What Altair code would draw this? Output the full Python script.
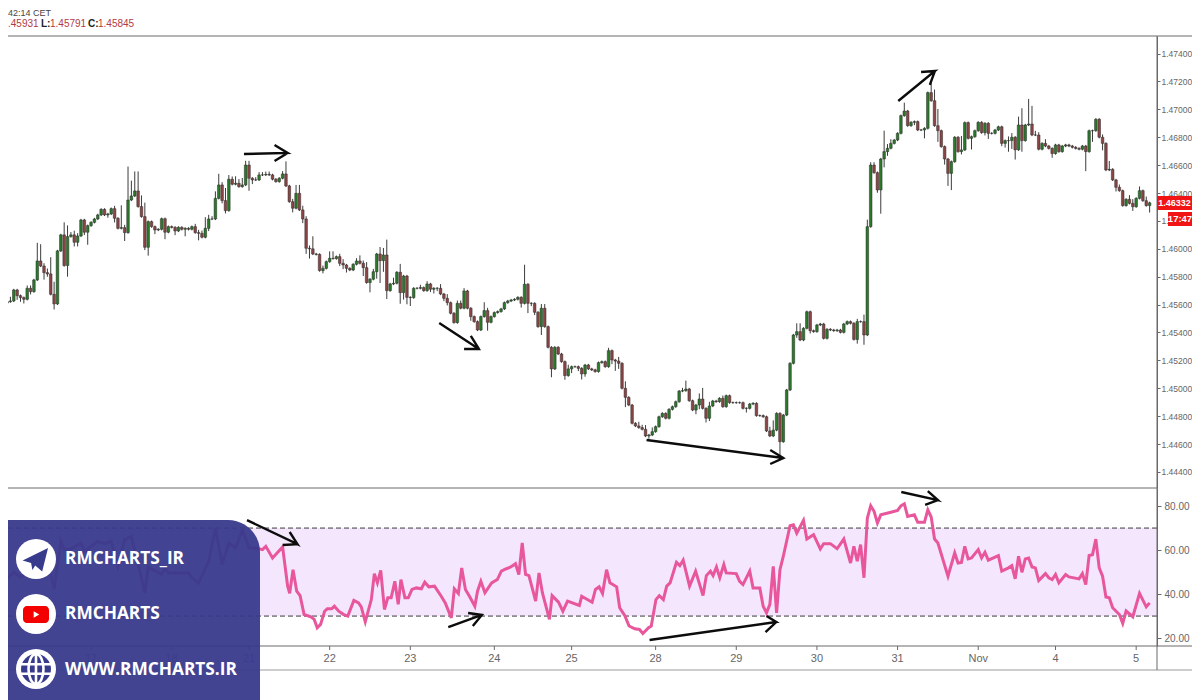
import altair as alt
import pandas as pd

# ---------- values ----------
# hourly closes, in pips above 1.44000 (open = previous close)
CLOSE_PIPS = [
    162.1,162.6,170.5,166.4,165.0,163.8,171.7,169.3,177.7,191.3,
    187.7,182.9,182.0,167.4,160.5,198.5,210.0,188.0,208.8,210.0,
    204.7,209.2,220.7,211.9,216.6,219.0,221.4,224.3,228.3,224.3,
    225.0,228.8,221.9,214.7,215.2,211.6,235.0,237.9,241.5,230.3,
    223.1,201.1,219.5,215.9,213.5,214.0,221.6,211.9,215.9,215.4,
    212.8,215.4,214.0,214.7,214.0,215.9,211.6,211.1,208.3,214.7,
    221.4,221.4,236.2,245.8,234.6,227.4,249.9,246.3,247.0,244.6,
    245.8,260.1,250.6,249.4,249.4,253.0,253.0,253.4,253.0,249.9,
    248.2,250.6,253.7,245.1,233.8,229.1,239.8,227.9,221.4,200.4,
    200.0,196.3,196.0,184.4,186.0,190.8,193.2,193.0,194.4,189.6,
    188.4,186.0,184.8,188.9,191.3,189.6,186.5,175.8,178.2,183.6,
    196.3,191.5,195.6,170.0,174.8,175.3,183.2,168.6,180.5,165.2,
    165.0,171.7,171.7,172.2,170.0,174.8,171.0,171.7,171.7,167.6,
    164.5,161.4,153.8,147.1,160.9,157.4,169.8,157.4,151.4,147.8,
    141.8,151.4,155.7,147.3,151.4,154.3,155.0,156.9,161.4,162.6,
    163.3,163.8,165.2,160.9,174.6,160.9,160.9,154.5,144.2,157.4,
    144.2,129.4,113.9,129.4,124.6,119.1,109.1,113.9,115.5,115.5,
    114.3,110.3,116.7,113.9,113.2,112.0,118.4,119.1,115.5,127.0,
    120.3,119.5,117.9,100.0,93.5,88.0,74.9,73.0,71.8,70.6,
    65.8,66.5,68.9,72.5,79.6,82.0,78.5,84.9,86.8,90.4,
    98.0,98.3,99.5,91.1,84.4,88.0,92.3,85.6,78.5,87.3,
    90.9,90.4,92.8,86.8,94.7,89.7,89.7,89.7,89.7,85.6,
    85.6,88.7,89.2,80.4,80.4,79.6,69.4,65.8,70.0,82.0,
    61.7,80.8,98.8,117.9,138.2,140.6,134.6,143.0,154.9,141.3,
    140.6,145.4,146.1,135.8,142.3,141.8,141.3,141.8,140.1,146.1,
    147.8,146.6,135.0,147.8,147.8,138.2,215.9,260.1,254.6,242.2,
    264.4,269.7,272.1,275.6,278.0,282.8,295.5,298.8,288.3,290.7,
    291.2,285.2,285.2,286.4,312.0,306.2,288.3,284.7,273.3,264.4,
    254.1,262.5,280.0,269.7,270.9,290.5,279.2,280.4,284.7,290.7,
    283.3,290.0,282.8,282.8,285.2,287.5,275.6,277.6,277.6,280.0,
    271.0,288.8,277.6,288.8,289.5,281.6,281.6,271.4,275.6,273.7,
    272.0,268.3,274.5,269.7,273.7,274.5,273.7,272.8,272.0,271.4,
    273.7,269.7,284.7,284.7,292.9,280.0,275.6,256.5,257.0,249.4,
    244.1,241.7,231.0,235.5,232.6,230.2,236.2,241.7,234.5,231.0,
    233.0,
]
# wick lengths in pips, by bar; bars not listed have a short wick
WICK_SHORT = 0.8
WICK_UP = {1:3,6:2,7:2,9:13,10:12,11:2,12:3,13:12,14:9,17:9,18:8,19:2,20:3,21:2,32:2,34:16,35:2,36:24,37:11,38:14,
    39:14,40:8,41:10,56:2,57:2,58:2,59:8,60:3,61:2,62:5,63:8,64:2,65:9,66:3,67:2,68:5,69:3,70:5,71:3,72:3,74:2,75:2,
    76:2,77:2,78:2,82:2,83:9,85:2,86:6,87:6,88:3,89:2,90:2,91:9,94:2,96:5,97:5,99:2,100:3,104:2,105:4,106:2,107:4,
    109:2,111:5,112:5,113:11,115:4,117:6,123:2,125:2,129:3,131:3,134:2,135:2,136:2,142:6,143:2,154:14,159:3,160:3,
    167:3,179:2,182:3,184:5,188:3,189:2,190:3,192:3,201:2,202:6,206:4,207:8,209:3,213:2,227:3,228:7,235:6,236:6,
    253:2,255:5,256:5,257:2,258:2,261:15,262:3,263:3,267:6,275:7,276:8,277:12,284:10,298:3,299:3,301:6,302:12,304:18,
    305:13,306:3,307:2,309:3,326:2,328:6,331:2,334:3,335:3,337:3,339:3}
WICK_DN = {3:3,4:3,5:3,7:2,11:5,12:2,14:4,18:8,20:3,21:3,23:2,24:9,30:2,32:3,35:6,41:2,42:6,44:3,47:5,50:3,53:5,57:5,
    60:2,64:2,65:2,72:9,73:3,85:3,88:3,89:4,90:7,94:2,99:2,100:3,101:3,106:6,108:7,110:5,111:16,112:8,113:6,117:8,
    118:5,119:5,120:6,126:2,127:3,128:2,130:2,131:2,138:3,143:6,153:3,155:7,156:2,157:2,159:6,162:6,166:3,168:3,170:2,
    171:4,172:2,180:3,181:7,182:4,184:7,191:2,205:3,206:3,208:3,209:2,220:3,230:11,235:2,239:2,253:3,255:7,259:2,
    260:17,261:6,262:3,270:2,273:6,277:8,279:4,280:9,281:12,284:2,287:8,291:2,292:4,296:2,297:3,298:8,299:6,300:7,
    302:8,311:3,321:14,323:8,326:5,330:3,335:3,340:5}

RSI_BAR = [0,2,4,6,8,12,14,16,17,19,22,23,27,29,31,33,35,37,41,42,46,47,48,54,55,57,60,62,64,66,68,70,72,74,76,77,79,82,
    83.5,84.1,85.1,86.2,87.2,88.4,90.4,91.4,92.3,93.3,94.5,95.3,96.6,97.4,98.7,100.2,101.4,103.2,104.6,105.4,106.6,107.6,
    108.4,109.3,110.2,111.2,112.3,113.3,114.3,115.4,116.4,117.2,118.4,119.4,120.5,121.8,123.3,124.3,125.5,127.2,129.2,130.4,
    132.2,133.1,134.3,135.3,136.4,137.6,139.2,140,141,142.2,144.2,145.9,147.1,148.4,149.9,151.3,152.3,153.3,154.3,155.3,
    157.3,158.3,159.3,161.4,162.2,164.1,165.4,166.8,170.3,171,174.1,175.1,176.2,177.2,178.4,179.4,181.4,182.3,183.8,185.1,
    186.8,188.2,189.2,190.9,191.7,193.1,194.1,195.3,196.3,197.3,199.2,200.2,201.2,203.1,204.9,207.1,208.1,209.3,210.1,211.1,
    212.1,213.3,214,217,218,219,221,222,224,225,226,227,228,229,230,231,233,234,235,237,238,240,242,243,245,247,249,251,252,253,
    254,255,256,257,258,259,260,263,265,266,267,268,270,271,273,274,275,276,277,280,282,283,284,285,286,287,289,290,291,292,295,
    296,298,299,300,301,302,303,304,305,306,307,309,310,311,312,313,315,316,319,320,321,322,323,324,325,326,327,328,329,331,332,
    333,335,337,339,340]
RSI_VAL = [46.9,49.9,47.7,49.6,54.1,55.7,42.1,64,60.2,60.5,63.2,59.4,64,62.9,64,52.6,64.7,66.2,40.6,52.3,48.9,51.9,49.6,49.6,47.4,45.1,54.9,70,53.4,63.2,60.9,69.2,60.9,60.9,60.2,61.7,56.4,61.4,
    43.6,40.3,51.1,41.3,39.3,30.7,29.7,28.5,24.7,26.2,32.2,33.3,33.3,34.5,32.2,30.7,30,37.1,36,34.2,27.4,33,
    37.5,49.3,45.1,50.8,33,38.3,38.3,45.8,35.3,46.6,38.3,38.3,42.1,42.8,42.4,45.4,43.3,43.6,39,36,
    29.2,42.4,40.3,51.9,42.1,39,34.5,41.3,45.8,40.6,45.1,46.6,50.4,51.4,52.3,53.8,48.9,63.2,48.9,48.4,
    36.8,49.6,40.6,28.5,39.3,36.3,32.2,36.8,34.8,39,36.3,42.1,43.3,40.3,51.1,45.1,43.3,33.8,30.3,25.5,
    24.2,23.9,22.1,24.7,25.5,37.5,39.3,37.5,43.6,45.1,54.4,52.9,55.4,43.6,50.4,39.3,48.4,50.4,48.4,52.3,
    47.4,53.4,49.6,49.3,45.8,44.3,50.4,42.8,42.8,34.5,31.5,35.3,52.6,31.5,51.1,57.2,71.1,71.5,67.7,73.5,65,67,60.5,62.9,62.9,60.6,65,54.1,61.7,54.9,
    62.5,47.4,74.5,80.1,77.6,72.3,76,77.2,78,80.1,81,75.3,76,72.6,72.6,78.3,75,65,63.2,48.1,58.7,54.1,54.4,61.7,56,56.4,60.2,56.4,59,55.4,57.5,
    50.4,51.9,52.9,46.9,57.2,49.9,56,56.4,52.3,51.9,46.1,49.3,47.4,46.6,48.9,45.1,48.9,47.8,46.9,49.3,44.3,57.5,57.9,65,51.9,48.1,38.7,38.3,33.8,30.7,26.7,
    32.3,29.7,40.3,34.2,36]

PRICE_TICKS = [1.444,1.446,1.448,1.450,1.452,1.454,1.456,1.458,1.460,1.462,1.464,1.466,1.468,1.470,1.472,1.474]
RSI_TICKS = [20,40,60,80]
DAY_TICK_BARS = [25,49,72,96,120,145,168,193,217,241,265,289,312,336]
DAY_TICK_LABELS = ["17","18","21","22","23","24","25","28","29","30","31","Nov","4","5"]
RSI_LEVELS = [30,70]

# hand-drawn arrows: tail, tip, barb, tip, barb as (bar, value)
PRICE_ARROWS = {
    "a1":[(70.5,268),(83.5,268.7),(79.6,274.5),(83.5,268.7),(79.6,263)],
    "a2":[(128.6,146.8),(140.4,128.2),(138,137.5),(140.4,128.2),(136,128.2)],
    "a3":[(190.3,62.9),(231,50),(227.1,55.8),(231,50),(227.1,45.7)],
    "a4":[(265.2,306),(276.1,327.5),(272,326.8),(276.1,327.5),(274.6,317.5)],
}
RSI_ARROWS = {
    "b1":[(71.4,73.6),(86.4,62.7),(84.1,68.2),(86.4,62.7),(82,62.3)],
    "b2":[(131.3,25),(141.3,30.5),(137.2,31.4),(141.3,30.5),(138.6,25.5)],
    "b3":[(191.2,19.1),(228.9,27.3),(226,30),(228.9,27.3),(225.7,22.7)],
    "b4":[(266.1,86.4),(277,82.7),(274,86.8),(277,82.7),(273.2,80.5)],
}

# ---------- tables ----------
rows = []
prev = CLOSE_PIPS[0] - 1
for i, c in enumerate(CLOSE_PIPS):
    o = prev
    hi, lo = max(o, c), min(o, c)
    rows.append({
        "bar": i, "top": 1.44 + hi / 1e4, "bot": 1.44 + lo / 1e4,
        "high": 1.44 + (hi + WICK_UP.get(i, WICK_SHORT)) / 1e4,
        "low": 1.44 + (lo - WICK_DN.get(i, WICK_SHORT)) / 1e4,
        "dir": "up" if c >= o else "down",
    })
    prev = c
candles = pd.DataFrame(rows)
rsi = pd.DataFrame({"bar": RSI_BAR, "rsi": RSI_VAL})
price_arrows = pd.DataFrame([{"k": k, "o": n, "bar": b, "v": 1.44 + p / 1e4}
                             for k, pts in PRICE_ARROWS.items() for n, (b, p) in enumerate(pts)])
rsi_arrows = pd.DataFrame([{"k": k, "o": n, "bar": b, "v": v}
                           for k, pts in RSI_ARROWS.items() for n, (b, v) in enumerate(pts)])
days = pd.DataFrame({"bar": DAY_TICK_BARS, "label": DAY_TICK_LABELS})
one = pd.DataFrame({"a": [0]})

# ---------- scales ----------
AXC = "#6a6a6a"
LBL = "#666666"
XS = alt.Scale(domain=[1.77, 340.71], nice=False, zero=False)
PS = alt.Scale(domain=[1.44285, 1.47526], range=[480, 28], nice=False, zero=False)
RS = alt.Scale(domain=[16.4, 88.2], range=[638, 480], nice=False, zero=False)
FONT = "Liberation Sans"
x_none = alt.X("bar:Q", scale=XS, axis=None)

def rect(x, x2, y, y2, **kw):
    return alt.Chart(one).mark_rect(**kw).encode(x=alt.value(x), x2=alt.value(x2), y=alt.value(y), y2=alt.value(y2))

def hline(y, x1, x2, color=AXC, w=1):
    return alt.Chart(one).mark_rule(color=color, strokeWidth=w).encode(x=alt.value(x1), x2=alt.value(x2), y=alt.value(y))

def vline(x, y1, y2, color=AXC, w=1):
    return alt.Chart(one).mark_rule(color=color, strokeWidth=w).encode(x=alt.value(x), y=alt.value(y1), y2=alt.value(y2))

def text(s, x, y, size=10, color="#444444", align="left", weight="normal", font=FONT):
    return alt.Chart(one).mark_text(text=s, fontSize=size, color=color, align=align, baseline="middle",
                                    fontWeight=weight, font=font).encode(x=alt.value(x), y=alt.value(y))

def sym(x, y, size, **kw):
    return alt.Chart(one).mark_point(size=size, **kw).encode(x=alt.value(x), y=alt.value(y))

# ---------- layers ----------
band = alt.Chart(pd.DataFrame({"y": [RSI_LEVELS[1]], "y2": [RSI_LEVELS[0]]})).mark_rect(color="#f4e6fd").encode(
    x=alt.value(0), x2=alt.value(1149), y=alt.Y("y:Q", scale=RS, axis=None), y2="y2:Q")
levels = alt.Chart(pd.DataFrame({"y": RSI_LEVELS})).mark_rule(color="#3a3a3a", strokeWidth=1, strokeDash=[5, 3]).encode(
    x=alt.value(0), x2=alt.value(1149), y=alt.Y("y:Q", scale=RS, axis=None))

day_ticks = alt.Chart(days).mark_rule(color=AXC, strokeWidth=1).encode(x=x_none, y=alt.value(638), y2=alt.value(642))
day_labels = alt.Chart(days).mark_text(fontSize=11, font=FONT, color=LBL, baseline="middle", align="center").encode(
    x=x_none, y=alt.value(651), text="label:N")

wicks = alt.Chart(candles).mark_rule(color="#3c3c3c", strokeWidth=1, clip=True).encode(
    x=x_none,
    y=alt.Y("low:Q", scale=PS, axis=alt.Axis(orient="right", values=PRICE_TICKS, format=".5f", title=None, grid=False,
            tickSize=3, tickColor=AXC, domainColor=AXC, labelColor=LBL, labelFontSize=8.5, labelFont=FONT,
            labelPadding=1, labelOverlap=False)),
    y2="high:Q")
bodies = alt.Chart(candles).mark_bar(size=2.6, clip=True, stroke="#2b2b2b", strokeWidth=0.5).encode(
    x=x_none, y=alt.Y("top:Q", scale=PS, axis=None), y2="bot:Q",
    color=alt.Color("dir:N", scale=alt.Scale(domain=["up", "down"], range=["#2a7a2a", "#8c4545"]), legend=None))
rsi_line = alt.Chart(rsi).mark_line(color="#e8579b", strokeWidth=3, clip=True, strokeJoin="miter", interpolate="linear").encode(
    x=x_none,
    y=alt.Y("rsi:Q", scale=RS, axis=alt.Axis(orient="right", values=RSI_TICKS, format=".2f", title=None, grid=False,
            tickSize=4, tickColor=AXC, domainColor=AXC, labelColor=LBL, labelFontSize=10, labelFont=FONT,
            labelPadding=3, labelOverlap=False)))
pa = alt.Chart(price_arrows).mark_line(color="#0c0c0c", strokeWidth=2.4).encode(
    x=x_none, y=alt.Y("v:Q", scale=PS, axis=None), detail="k:N", order="o:Q")
ra = alt.Chart(rsi_arrows).mark_line(color="#0c0c0c", strokeWidth=2.4).encode(
    x=x_none, y=alt.Y("v:Q", scale=RS, axis=None), detail="k:N", order="o:Q")

PANEL = "#383a8c"
RED_TXT = "#b23a44"
layers = [
    band, levels,
    hline(28, 0, 1184), hline(480, 0, 1149), hline(638, 0, 1184), hline(662, 0, 1184, color="#9a9a9a"),
    vline(1149, 28, 662),
    day_ticks, day_labels,
    wicks, bodies, rsi_line,
    rect(1149, 1184, 188, 202, color="#f01414"),
    text("1.46332", 1166.5, 195, size=9, color="white", align="center", weight="bold"),
    rect(1160, 1184, 204, 218, color="#f01414"),
    text("17:47", 1172, 211, size=9.5, color="white", align="center", weight="bold"),
    text("42:14 CET", 0, 5, size=9),
    text(".45931", 0, 16, color=RED_TXT),
    text("L:", 33, 16, color="#222222", weight="bold"),
    text("1.45791", 42, 16, color=RED_TXT),
    text("C:", 80, 16, color="#222222", weight="bold"),
    text("1.45845", 90, 16, color=RED_TXT),
    # watermark panel
    rect(0, 252, 512, 692, color=PANEL, opacity=0.95, cornerRadiusTopRight=32),
    sym(28, 551, 1600, shape="circle", filled=True, color="white", opacity=1),
    sym(28, 606, 1600, shape="circle", filled=True, color="white", opacity=1),
    sym(28, 661, 1600, shape="circle", filled=True, color="white", opacity=1),
    sym(27, 551, 680, shape="M-0.95,0.12 L1,-0.85 L0.55,0.95 L0.02,0.5 L-0.2,0.85 L-0.3,0.3 Z", filled=True, color=PANEL, opacity=1),
    rect(15, 41, 598, 615, color="#f40000", cornerRadius=4),
    sym(28.5, 606.5, 42, shape="triangle-right", filled=True, color="white", opacity=1),
    sym(28, 661, 900, shape="circle", filled=True, color=PANEL, opacity=1),
    sym(28, 661, 900, shape="M0,-1A0.5,1 0 1,1 0,1A0.5,1 0 1,1 0,-1Z M-1,-0.32L1,-0.32 M-1,0.32L1,0.32 M0,-1L0,1",
        filled=False, color="white", strokeWidth=2.6, opacity=1),
    text("RMCHARTS_IR", 57, 551, size=17.3, color="white", weight="bold", font="Open Sans"),
    text("RMCHARTS", 57, 606, size=17.3, color="white", weight="bold", font="Open Sans"),
    text("WWW.RMCHARTS.IR", 57, 662, size=17.3, color="white", weight="bold", font="Open Sans"),
    pa, ra,
]

chart = alt.layer(*layers).resolve_scale(y="independent").properties(
    width=1149, height=638,
    autosize=alt.AutoSizeParams(type="none"),
    padding={"left": 0, "top": 0, "right": 35, "bottom": 54},
    background="white",
).configure_view(stroke=None)

chart.save("out.html", embed_options={"renderer": "svg", "actions": False})
